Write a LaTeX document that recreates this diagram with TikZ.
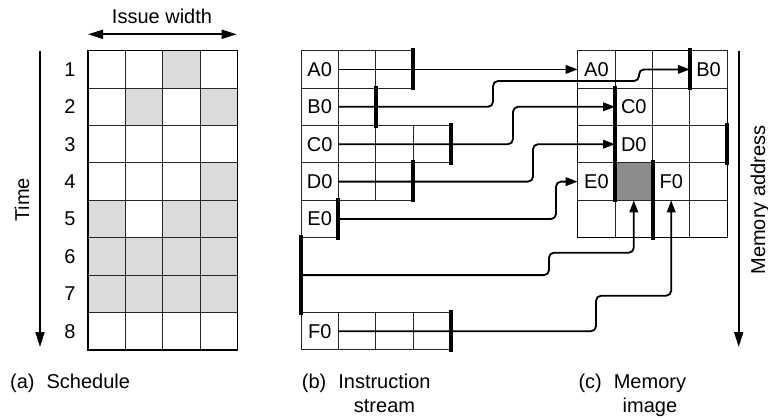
\documentclass[tikz,border=0pt]{standalone}
\usepackage{fontspec}
\setmainfont{Liberation Sans}
\usetikzlibrary{arrows.meta,positioning}

\tikzset{
  cell/.style={draw=black!85, line width=0.9pt, minimum size=37.4pt, inner sep=0pt, outer sep=0pt},
  gridline/.style={draw=black!85, line width=0.9pt},
  border/.style={draw=black, line width=1.3pt},
  busy/.style={fill=black!14},
  conn/.style={draw=black, line width=1.8pt, rounded corners=5pt, -{Triangle[length=12pt,width=8.5pt]}},
  bar/.style={draw=black, line width=4pt},
  timearrow/.style={draw=black, line width=1.8pt, -{Triangle[length=15pt,width=9pt]}},
  caption/.style={anchor=base west, inner sep=0pt},
}

\begin{document}
\begin{tikzpicture}[x=1pt,y=-1pt,font=\fontsize{20}{24}\selectfont]
\useasboundingbox (0,0) rectangle (768,418);

% (a) schedule
\foreach \c/\r in {3/1,2/2,4/2,4/4,1/5,3/5,4/5,1/6,2/6,3/6,4/6,1/7,2/7,3/7,4/7}
  \fill[busy] ({88+(\c-1)*37.4},{50.7+(\r-1)*37.4}) rectangle ++(37.4,37.4);
\draw[gridline, shift={(88,50.7)}] (0,299.5) grid[step=37.4pt] (149.9,0);
\draw[border] (88,50.7) rectangle (237.2,349.9);
\foreach \r in {1,...,8}
  \node (t\r) at (70,{69.4+(\r-1)*37.4}) {\r};

\coordinate (timeTop) at (40,50.7);
\coordinate (timeEnd) at (40,347);
\draw[timearrow] (timeTop) -- (timeEnd);
\node[rotate=90] (timeLabel) at (22,200) {Time};

\coordinate (issueL) at (88,34.3);
\coordinate (issueR) at (236.7,34.3);
\draw[timearrow, {Triangle[length=15pt,width=9pt]}-{Triangle[length=15pt,width=9pt]}] (issueL) -- (issueR);
\node[anchor=base] (issueLabel) at (162,23.3) {Issue width};

% (b) instruction stream
\node[cell] (sA0) at (319.7,69.4) {A0};
\node[cell, right=0pt of sA0] (sA1) {};
\node[cell, right=0pt of sA1] (sA2) {};
\node[cell] (sB0) at (319.7,106.8) {B0};
\node[cell, right=0pt of sB0] (sB1) {};
\node[cell] (sC0) at (319.7,144.2) {C0};
\node[cell, right=0pt of sC0] (sC1) {};
\node[cell, right=0pt of sC1] (sC2) {};
\node[cell, right=0pt of sC2] (sC3) {};
\node[cell] (sD0) at (319.7,181.6) {D0};
\node[cell, right=0pt of sD0] (sD1) {};
\node[cell, right=0pt of sD1] (sD2) {};
\node[cell] (sE0) at (319.7,219.0) {E0};
\node[cell] (sF0) at (319.7,331.2) {F0};
\node[cell, right=0pt of sF0] (sF1) {};
\node[cell, right=0pt of sF1] (sF2) {};
\node[cell, right=0pt of sF2] (sF3) {};

\coordinate (gapTop) at (301,237.7);
\coordinate (gapMid) at (301,275.1);
\coordinate (gapBot) at (301,312.5);

% (c) memory image
\draw[gridline, shift={(577.7,50.7)}] (0,187.3) grid[step=37.4pt] (149.9,0);
\draw[border] (577.7,50.7) rectangle (727.3,237.7);
\node[cell] (mA0) at (596.4,69.4) {A0};
\node[cell] (mB0) at (708.6,69.4) {B0};
\node[cell] (mC0) at (633.8,106.8) {C0};
\node[cell] (mD0) at (633.8,144.2) {D0};
\node[cell] (mE0) at (596.4,181.6) {E0};
\node[cell, fill=black!45] (mGap) at (633.8,181.6) {};
\node[cell] (mF0) at (671.2,181.6) {F0};

\coordinate (addrTop) at (738.7,50.7);
\coordinate (addrEnd) at (738.7,347);
\draw[timearrow] (addrTop) -- (addrEnd);
\node[rotate=90] (addrLabel) at (760,200) {Memory address};

% connectors
\draw[conn] (sA0.east) -- (mA0.west);
\draw[conn] (sB0.east) -| (493,81) -| (639,69.4) -- (mB0.west);
\draw[conn] (sC0.east) -| (513,106.8) -- (mC0.west);
\draw[conn] (sD0.east) -| (533,144.2) -- (mD0.west);
\draw[conn] (sE0.east) -| (556,181.6) -- (mE0.west);
\draw[conn] (gapMid) -| (549,252.7) -| (mGap.south);
\draw[conn] (sF0.east) -| (596,295.7) -| (mF0.south);

% group bars
\draw[bar] ([yshift=2.5pt]sA2.north east) -- ([yshift=-2pt]sA2.south east);
\draw[bar] ([yshift=2.5pt]sB1.north east) -- ([yshift=-2pt]sB1.south east);
\draw[bar] ([yshift=2.5pt]sC3.north east) -- ([yshift=-2pt]sC3.south east);
\draw[bar] ([yshift=2.5pt]sD2.north east) -- ([yshift=-2pt]sD2.south east);
\draw[bar] ([yshift=2.5pt]sE0.north east) -- ([yshift=-2pt]sE0.south east);
\draw[bar] ([yshift=2.5pt]gapTop) -- ([yshift=-2pt]gapBot);
\draw[bar] ([yshift=2.5pt]sF0.north west -| sF3.east) -- ([yshift=-2pt]sF3.south east);
\draw[bar] ([yshift=2.5pt]mB0.north west) -- ([yshift=-2pt]mB0.south west);
\draw[bar] ([yshift=2.5pt]mC0.north west) -- ([yshift=-2pt]mGap.south west);
\draw[bar] ([xshift=74.8pt,yshift=2.5pt]mD0.north east) -- ([xshift=74.8pt,yshift=-2pt]mD0.south east);
\draw[bar] ([yshift=2.5pt]mGap.north east) -- ([yshift=-39.4pt]mGap.south east);

% captions
\node[caption] (capA) at (10,388) {(a)\hspace{0.6em}Schedule};
\node[caption] (capB) at (301.7,388) {(b)\hspace{0.6em}\begin{tabular}[t]{@{}c@{}}Instruction\\stream\end{tabular}};
\node[caption] (capC) at (578.3,388) {(c)\hspace{0.6em}\begin{tabular}[t]{@{}c@{}}Memory\\image\end{tabular}};
\end{tikzpicture}
\end{document}
